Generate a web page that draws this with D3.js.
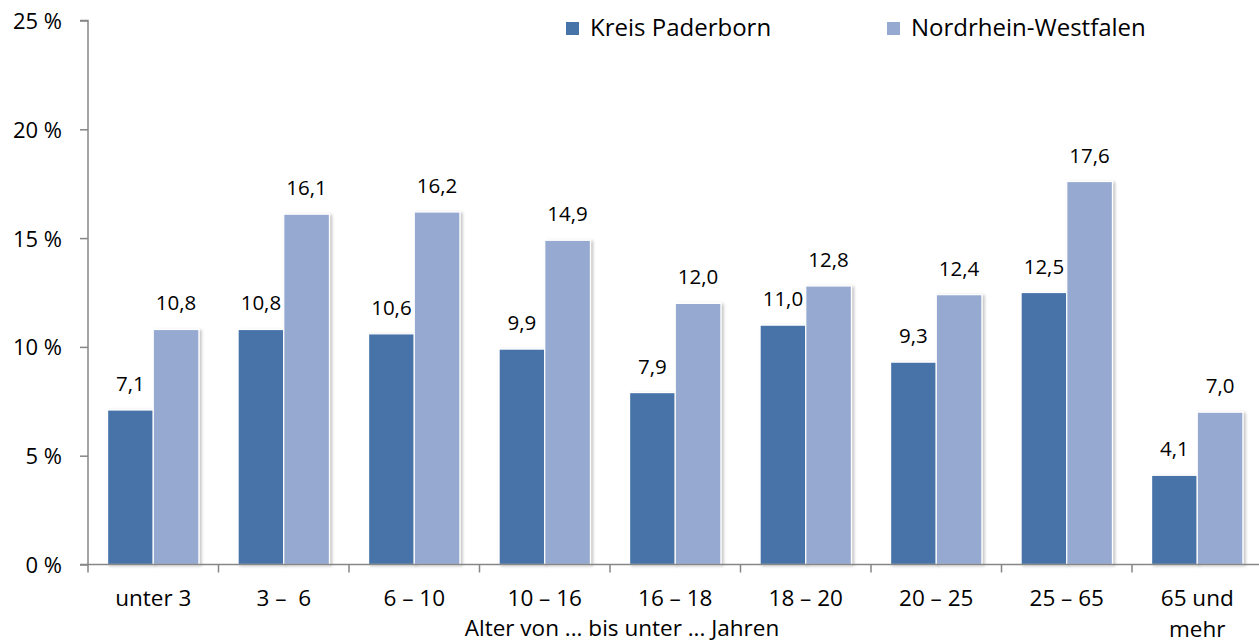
<!DOCTYPE html>
<html>
<head>
<meta charset="utf-8">
<script src="https://cdn.jsdelivr.net/npm/d3@7"></script>
<style>
  body { margin: 0; background: #fff; }
  svg text { font-family: "Open Sans", "Noto Sans", sans-serif; fill: #000; white-space: pre; }
</style>
</head>
<body>
<script>
var categories = ["unter 3", "3 \u2013  6", "6 \u2013 10", "10 \u2013 16", "16 \u2013 18", "18 \u2013 20", "20 \u2013 25", "25 \u2013 65", "65 und|mehr"];
var seriesNames = ["Kreis Paderborn", "Nordrhein-Westfalen"];
var paderborn = [7.1, 10.8, 10.6, 9.9, 7.9, 11.0, 9.3, 12.5, 4.1];
var nrw = [10.8, 16.1, 16.2, 14.9, 12.0, 12.8, 12.4, 17.6, 7.0];
var yTicks = [0, 5, 10, 15, 20, 25];
var colors = ["#4673a8", "#95a9d1"];

var width = 1259, height = 644;
var left = 88, zeroY = 564.5, topY = 20.5, step = 130.5;

var svg = d3.select("body").append("svg")
  .attr("width", width)
  .attr("height", height);

var defs = svg.append("defs");
var f = defs.append("filter").attr("id", "shadow")
  .attr("x", "-20%").attr("y", "-5%").attr("width", "140%").attr("height", "110%");
f.append("feDropShadow").attr("dx", 2).attr("dy", 1).attr("stdDeviation", 1.5)
  .attr("flood-color", "#000").attr("flood-opacity", 0.25);

var x = d3.scaleBand()
  .domain(categories)
  .range([left, left + step * categories.length])
  .paddingInner(0.3)
  .paddingOuter(0.15);

var xSub = d3.scaleBand()
  .domain(seriesNames)
  .range([0, x.bandwidth()])
  .padding(0);

var y = d3.scaleLinear().domain([0, 25]).range([zeroY, topY]);

var rows = categories.map(function (c, i) {
  return { cat: c, values: [paderborn[i], nrw[i]] };
});

// bars
var groups = svg.selectAll(".grp")
  .data(rows)
  .enter()
  .append("g")
  .attr("transform", function (d) { return "translate(" + x(d.cat) + ",0)"; });

groups.selectAll("rect")
  .data(function (d) {
    return d.values.map(function (v, j) { return { name: seriesNames[j], v: v, j: j }; });
  })
  .enter()
  .append("rect")
  .attr("x", function (d) { return xSub(d.name); })
  .attr("y", function (d) { return y(d.v); })
  .attr("width", xSub.bandwidth())
  .attr("height", function (d) { return zeroY - y(d.v); })
  .attr("fill", function (d) { return colors[d.j]; })
  .attr("stroke", "#fff")
  .attr("stroke-width", 1.2)
  .attr("filter", "url(#shadow)");

groups.selectAll(".val")
  .data(function (d) {
    return d.values.map(function (v, j) { return { name: seriesNames[j], v: v }; });
  })
  .enter()
  .append("text")
  .attr("x", function (d) { return xSub(d.name) + xSub.bandwidth() / 2; })
  .attr("y", function (d) { return y(d.v) - 19; })
  .attr("text-anchor", "middle")
  .attr("font-size", 20.5)
  .text(function (d) { return d3.format(".1f")(d.v).replace(".", ","); });

// y axis
var yAxis = d3.axisLeft(y)
  .tickValues(yTicks)
  .tickSize(8)
  .tickPadding(18)
  .tickFormat(function (d) { return d + " %"; });

var yg = svg.append("g")
  .attr("transform", "translate(" + left + ",0)")
  .call(yAxis)
  .attr("font-size", 22)
  .attr("font-family", null);
yg.selectAll("path, line").attr("stroke", "#868686").attr("stroke-width", 1.5);
yg.select(".domain").attr("d", "M-8," + topY + "H0V" + zeroY + "H-8");
yg.selectAll("text").attr("font-size", 22).attr("fill", "#000").attr("dy", "0.36em");

// x axis
var xg = svg.append("g").attr("class", "xaxis");
xg.append("line")
  .attr("x1", left).attr("x2", width)
  .attr("y1", zeroY).attr("y2", zeroY)
  .attr("stroke", "#868686").attr("stroke-width", 1.5);
xg.selectAll(".xt")
  .data(categories)
  .enter()
  .append("line")
  .attr("x1", function (d) { return x(d) - x.step() * 0.15; })
  .attr("x2", function (d) { return x(d) - x.step() * 0.15; })
  .attr("y1", zeroY).attr("y2", zeroY + 8)
  .attr("stroke", "#868686").attr("stroke-width", 1.5);

xg.selectAll(".xl")
  .data(categories)
  .enter()
  .append("text")
  .attr("text-anchor", "middle")
  .attr("x", function (d) { return x(d) + x.bandwidth() / 2; })
  .attr("y", 606)
  .attr("font-size", 22.5)
  .each(function (d) {
    var parts = d.split("|");
    var t = d3.select(this);
    parts.forEach(function (p, i) {
      t.append("tspan")
        .attr("x", x(d) + x.bandwidth() / 2)
        .attr("dy", i === 0 ? 0 : 31)
        .text(p);
    });
  });

svg.append("text")
  .attr("x", 622)
  .attr("y", 636)
  .attr("text-anchor", "middle")
  .attr("font-size", 22.5)
  .text("Alter von ... bis unter ... Jahren");

// legend
var legendX = [566, 887];
var legend = svg.selectAll(".leg")
  .data(seriesNames)
  .enter()
  .append("g")
  .attr("transform", function (d, i) { return "translate(" + legendX[i] + ",22)"; });
legend.append("rect")
  .attr("width", 13).attr("height", 13)
  .attr("fill", function (d, i) { return colors[i]; });
legend.append("text")
  .attr("x", 24)
  .attr("y", 13.5)
  .attr("font-size", 24)
  .text(function (d) { return d; });
</script>
</body>
</html>
